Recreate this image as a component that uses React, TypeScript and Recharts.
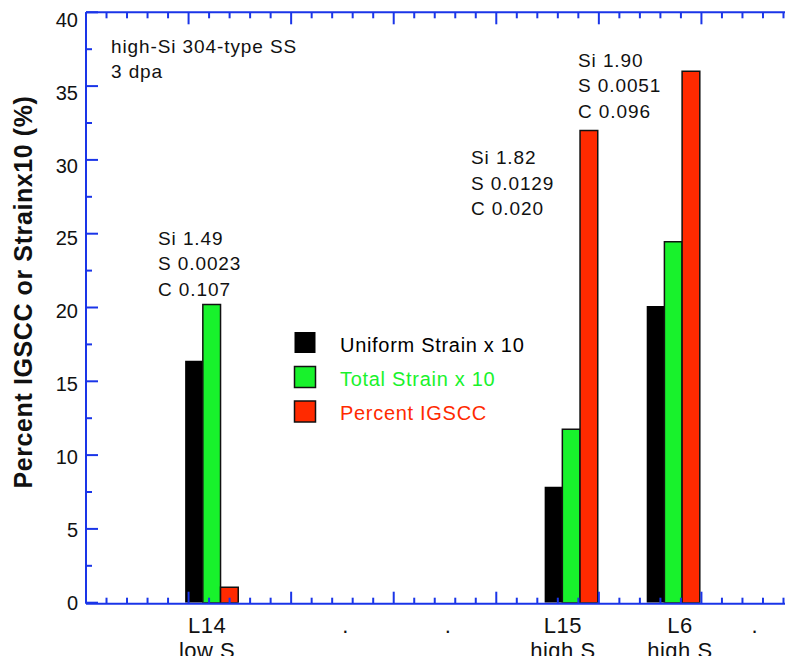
import { BarChart, Bar, XAxis, YAxis } from "recharts";

const samples = ["L14", "L15", "L6"];
const samplePos = [1.23, 4.735, 5.73];
const uniformStrain = [16.4, 7.85, 20.1];
const totalStrain = [20.2, 11.75, 24.45];
const percentIgscc = [1.05, 32.0, 36.0];

const siContent = ["1.49", "1.82", "1.90"];
const sContent = ["0.0023", "0.0129", "0.0051"];
const cContent = ["0.107", "0.020", "0.096"];

const xLabelPos = [1.18, 2.53, 3.53, 4.65, 5.79, 6.52];
const xLabels = [["L14", "low S"], ["."], ["."], ["L15", "high S"], ["L6", "high S"], ["."]];

const data = samples.map((name, i) => ({
  name,
  x: samplePos[i],
  uniform: uniformStrain[i],
  total: totalStrain[i],
  igscc: percentIgscc[i],
}));

const AXIS = "#1a35e8";
const GREEN = "#18f22c";
const RED = "#ff2a00";
const FONT = "'Liberation Sans', Arial, sans-serif";

// frame ticks: every 0.2 on x, every 2.5 on y
const xTicks = Array.from({ length: 36 }, (_, i) => +(i * 0.2).toFixed(1));
const yTicks = Array.from({ length: 17 }, (_, i) => i * 2.5);

const isMajor = (v: number, step: number) => Math.abs(v / step - Math.round(v / step)) < 1e-6;

const XMark = ({ x, y, payload, dir }: any) => {
  const len = isMajor(payload.value, 1) ? 12 : 6;
  return <line x1={x} x2={x} y1={y} y2={y + dir * len} stroke={AXIS} strokeWidth={2} />;
};

const YMark = ({ x, y, payload, dir, label }: any) => {
  const major = isMajor(payload.value, 5);
  const len = major ? 12 : 6;
  return (
    <g>
      <line x1={x} x2={x + dir * len} y1={y} y2={y} stroke={AXIS} strokeWidth={2} />
      {label && major && (
        <text x={x - 8} y={y + 7 + payload.value * 0.19} textAnchor="end" fontSize={20} fontFamily={FONT} fill="#111">
          {payload.value}
        </text>
      )}
    </g>
  );
};

const XLabel = ({ x, y, index }: any) => {
  const lines = xLabels[index] || [];
  return (
    <text x={x} y={y} textAnchor="middle" fontSize={22} fontFamily={FONT} fill="#111" letterSpacing={0.5}>
      {lines.map((t, i) => (
        <tspan key={i} x={x} y={y + 30 + i * 25}>
          {t}
        </tspan>
      ))}
    </text>
  );
};

const annotationPos = [
  { x: 158, y: 244.5 },
  { x: 471, y: 164 },
  { x: 578, y: 66.5 },
];

const legendItems = [
  { label: "Uniform Strain x 10", color: "#000", text: "#000", stroke: "none" },
  { label: "Total Strain x 10", color: GREEN, text: GREEN, stroke: "#111" },
  { label: "Percent IGSCC", color: RED, text: RED, stroke: "#111" },
];

export default function App() {
  return (
    <div style={{ margin: -8, width: 793, height: 664, overflow: "hidden", position: "relative", background: "#fff" }}>
      <BarChart
        width={805}
        height={664}
        data={data}
        margin={{ top: 11.3, right: 0, bottom: 59.3, left: 0 }}
        barGap={0}
        barSize={17.7}
      >
        <XAxis
          xAxisId="main"
          dataKey="x"
          type="number"
          domain={[0, 7]}
          allowDataOverflow
          ticks={xTicks}
          interval={0}
          height={1}
          tickSize={0}
          tickMargin={0}
          tickLine={false}
          axisLine={{ stroke: AXIS, strokeWidth: 2 }}
          tick={(p: any) => <XMark {...p} dir={-1} />}
        />
        <XAxis
          xAxisId="labels"
          dataKey="x"
          type="number"
          domain={[0, 7]}
          allowDataOverflow
          ticks={xLabelPos}
          interval={0}
          height={1}
          tickSize={0}
          tickMargin={0}
          tickLine={false}
          axisLine={false}
          tick={(p: any) => <XLabel {...p} />}
        />
        <XAxis
          xAxisId="top"
          orientation="top"
          dataKey="x"
          type="number"
          domain={[0, 7]}
          allowDataOverflow
          ticks={xTicks}
          interval={0}
          height={1}
          tickSize={0}
          tickMargin={0}
          tickLine={false}
          axisLine={{ stroke: AXIS, strokeWidth: 2 }}
          tick={(p: any) => <XMark {...p} dir={1} />}
        />
        <YAxis
          yAxisId="left"
          type="number"
          domain={[0, 40]}
          allowDataOverflow
          ticks={yTicks}
          interval={0}
          width={86}
          tickSize={0}
          tickMargin={0}
          tickLine={false}
          axisLine={{ stroke: AXIS, strokeWidth: 2 }}
          tick={(p: any) => <YMark {...p} dir={1} label />}
        />
        <YAxis
          yAxisId="right"
          orientation="right"
          type="number"
          domain={[0, 40]}
          allowDataOverflow
          ticks={yTicks}
          interval={0}
          width={1}
          tickSize={0}
          tickMargin={0}
          tickLine={false}
          axisLine={{ stroke: AXIS, strokeWidth: 2 }}
          tick={(p: any) => <YMark {...p} dir={-1} />}
        />
        <Bar xAxisId="main" yAxisId="left" dataKey="uniform" fill="#000" isAnimationActive={false} />
        <Bar xAxisId="main" yAxisId="left" dataKey="total" fill={GREEN} stroke="#111" strokeWidth={1.5} isAnimationActive={false} />
        <Bar xAxisId="main" yAxisId="left" dataKey="igscc" fill={RED} stroke="#111" strokeWidth={1.5} isAnimationActive={false} />
      </BarChart>

      <svg
        width={793}
        height={664}
        style={{ position: "absolute", left: 0, top: 0, pointerEvents: "none" }}
        fontFamily={FONT}
      >
        <text
          transform="translate(32, 292) rotate(-90)"
          textAnchor="middle"
          fontSize={25}
          fontWeight="bold"
          letterSpacing={0.6}
          fill="#111"
        >
          Percent IGSCC or Strainx10 (%)
        </text>

        <text x={111} y={52.7} fontSize={19} letterSpacing={0.9} fill="#111">high-Si 304-type SS</text>
        <text x={111} y={78.3} fontSize={19} letterSpacing={0.9} fill="#111">3 dpa</text>

        {annotationPos.map((p, i) => (
          <text key={i} fontSize={19} letterSpacing={0.9} fill="#111">
            <tspan x={p.x} y={p.y}>Si {siContent[i]}</tspan>
            <tspan x={p.x} y={p.y + 25.5}>S {sContent[i]}</tspan>
            <tspan x={p.x} y={p.y + 51}>C {cContent[i]}</tspan>
          </text>
        ))}

        {legendItems.map((it, i) => (
          <g key={it.label}>
            <rect x={294.5} y={332 + i * 34.5} width={21} height={21} fill={it.color} stroke={it.stroke} strokeWidth={1.5} />
            <text x={340} y={351.7 + i * 34} fontSize={20} letterSpacing={0.7} fill={it.text}>
              {it.label}
            </text>
          </g>
        ))}
      </svg>
    </div>
  );
}
